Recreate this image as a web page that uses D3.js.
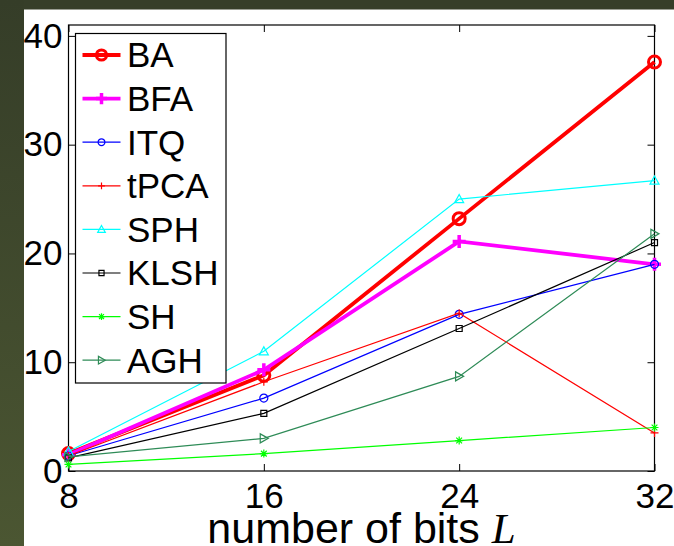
<!DOCTYPE html>
<html>
<head>
<meta charset="utf-8">
<script src="https://cdn.jsdelivr.net/npm/d3@7"></script>
<style>
  body { margin: 0; background: #fff; }
  svg { display: block; }
</style>
</head>
<body>
<svg id="chart" width="674" height="546"></svg>
<script>
// Retrieval precision vs. code length, one series per hashing method
const bits = [8, 16, 24, 32];
const yTicks = [0, 10, 20, 30, 40];
const methods = ["BA", "BFA", "ITQ", "tPCA", "SPH", "KLSH", "SH", "AGH"];
const baValues   = [1.6, 8.8, 23.2, 37.6];
const bfaValues  = [1.5, 9.3, 21.1, 19.0];
const itqValues  = [1.4, 6.7, 14.4, 19.0];
const tpcaValues = [1.4, 8.2, 14.5, 3.5];
const sphValues  = [1.8, 11.0, 25.0, 26.7];
const klshValues = [1.2, 5.3, 13.1, 21.0];
const shValues   = [0.6, 1.6, 2.8, 4.0];
const aghValues  = [1.3, 3.0, 8.7, 21.8];

const seriesValues = [baValues, bfaValues, itqValues, tpcaValues, sphValues, klshValues, shValues, aghValues];

// Line style per method
const styles = {
  BA:   { color: "#ff0000", width: 3.8, marker: "circle",   size: 6,   mw: 3 },
  BFA:  { color: "#ff00ff", width: 3.8, marker: "plus",     size: 6.5, mw: 3.5 },
  ITQ:  { color: "#0000ff", width: 1.2, marker: "circle",   size: 4,   mw: 1.2 },
  tPCA: { color: "#ff0000", width: 1.2, marker: "plus",     size: 4,   mw: 1.2 },
  SPH:  { color: "#00ffff", width: 1.2, marker: "triUp",    size: 4.5, mw: 1.2 },
  KLSH: { color: "#000000", width: 1.2, marker: "square",   size: 3,   mw: 1.2 },
  SH:   { color: "#00ff00", width: 1.2, marker: "asterisk", size: 4,   mw: 1.2 },
  AGH:  { color: "#2e8b57", width: 1.2, marker: "triRight", size: 4.5, mw: 1.2 }
};

function markerPath(type, s) {
  const p = d3.path();
  switch (type) {
    case "circle":
      p.moveTo(s, 0); p.arc(0, 0, s, 0, 2 * Math.PI); p.closePath(); break;
    case "plus":
      p.moveTo(-s, 0); p.lineTo(s, 0); p.moveTo(0, -s); p.lineTo(0, s); break;
    case "asterisk": {
      const d = s * 0.72;
      p.moveTo(-s, 0); p.lineTo(s, 0); p.moveTo(0, -s); p.lineTo(0, s);
      p.moveTo(-d, -d); p.lineTo(d, d); p.moveTo(-d, d); p.lineTo(d, -d); break;
    }
    case "triUp":
      p.moveTo(0, -s); p.lineTo(s, s * 0.8); p.lineTo(-s, s * 0.8); p.closePath(); break;
    case "triRight":
      p.moveTo(s, 0); p.lineTo(-s * 0.8, -s); p.lineTo(-s * 0.8, s); p.closePath(); break;
    case "square":
      p.rect(-s, -s, 2 * s, 2 * s); break;
  }
  return p.toString();
}

const svg = d3.select("#chart");

// Dark frame along the top and left edges
const defs = svg.append("defs");
const grad = defs.append("linearGradient").attr("id", "frameGrad")
  .attr("x1", 0).attr("y1", 0).attr("x2", 0).attr("y2", 1);
grad.append("stop").attr("offset", "0%").attr("stop-color", "#353d28");
grad.append("stop").attr("offset", "100%").attr("stop-color", "#4b5632");
svg.append("rect").attr("x", 0).attr("y", 0).attr("width", 674).attr("height", 9.5).attr("fill", "#363e29");
svg.append("rect").attr("x", 0).attr("y", 0).attr("width", 24).attr("height", 546).attr("fill", "url(#frameGrad)");

const x = d3.scaleLinear().domain([8, 32]).range([68.5, 654.5]);
const y = d3.scaleLinear().domain([0, 41]).range([471, 25]);

const font = "'Liberation Sans', Arial, Helvetica, sans-serif";

// Axes box
svg.append("rect")
  .attr("x", x(8)).attr("y", y(41))
  .attr("width", x(32) - x(8)).attr("height", y(0) - y(41))
  .attr("fill", "none").attr("stroke", "#000").attr("stroke-width", 1.2);

function styleAxis(g) {
  g.select(".domain").remove();
  g.selectAll(".tick line").attr("stroke", "#000").attr("stroke-width", 1);
  g.selectAll(".tick text").attr("fill", "#000")
    .style("font-family", font).style("font-size", "35px");
}

svg.append("g").attr("transform", `translate(0,${y(0)})`)
  .call(d3.axisBottom(x).tickValues(bits).tickFormat(d3.format("d")).tickSize(-7).tickPadding(12))
  .call(styleAxis);
svg.append("g").attr("transform", `translate(0,${y(41)})`)
  .call(d3.axisTop(x).tickValues(bits).tickFormat("").tickSize(-7))
  .call(styleAxis);
svg.append("g").attr("transform", `translate(${x(8)},0)`)
  .call(d3.axisLeft(y).tickValues(yTicks).tickFormat(d3.format("d")).tickSize(-7).tickPadding(6))
  .call(styleAxis);
svg.append("g").attr("transform", `translate(${x(32)},0)`)
  .call(d3.axisRight(y).tickValues(yTicks).tickFormat("").tickSize(-7))
  .call(styleAxis);

// Axis title
const xt = svg.append("text")
  .attr("x", (x(8) + x(32)) / 2).attr("y", 543)
  .attr("text-anchor", "middle")
  .style("font-family", font).style("font-size", "43px").attr("fill", "#000");
xt.append("tspan").text("number of bits ");
xt.append("tspan").text("L")
  .style("font-family", "'Liberation Serif', 'DejaVu Serif', serif")
  .style("font-style", "italic");

// Series lines and markers
const line = d3.line().x((d, i) => x(bits[i])).y(d => y(d));
methods.forEach((m, k) => {
  const st = styles[m];
  const vals = seriesValues[k];
  const g = svg.append("g");
  g.append("path").attr("d", line(vals))
    .attr("fill", "none").attr("stroke", st.color)
    .attr("stroke-width", st.width).attr("stroke-linejoin", "miter");
  g.selectAll("path.mk").data(vals).join("path").attr("class", "mk")
    .attr("transform", (d, i) => `translate(${x(bits[i])},${y(d)})`)
    .attr("d", markerPath(st.marker, st.size))
    .attr("fill", "none").attr("stroke", st.color).attr("stroke-width", st.mw);
});

// Legend
const lg = svg.append("g");
lg.append("rect").attr("x", 75.5).attr("y", 33.5).attr("width", 150.5).attr("height", 349.5)
  .attr("fill", "#fff").attr("stroke", "#000").attr("stroke-width", 1.2);
methods.forEach((m, k) => {
  const st = styles[m];
  const base = 67.3 + k * 43.6;
  const cy = base - 12.3;
  lg.append("line").attr("x1", 82.5).attr("x2", 120.5).attr("y1", cy).attr("y2", cy)
    .attr("stroke", st.color).attr("stroke-width", st.width);
  lg.append("path").attr("transform", `translate(101.5,${cy})`)
    .attr("d", markerPath(st.marker, st.size * 0.85))
    .attr("fill", "none").attr("stroke", st.color).attr("stroke-width", st.mw);
  lg.append("text").attr("x", 127).attr("y", base).text(m)
    .style("font-family", font).style("font-size", "35px").attr("fill", "#000");
});
</script>
</body>
</html>
